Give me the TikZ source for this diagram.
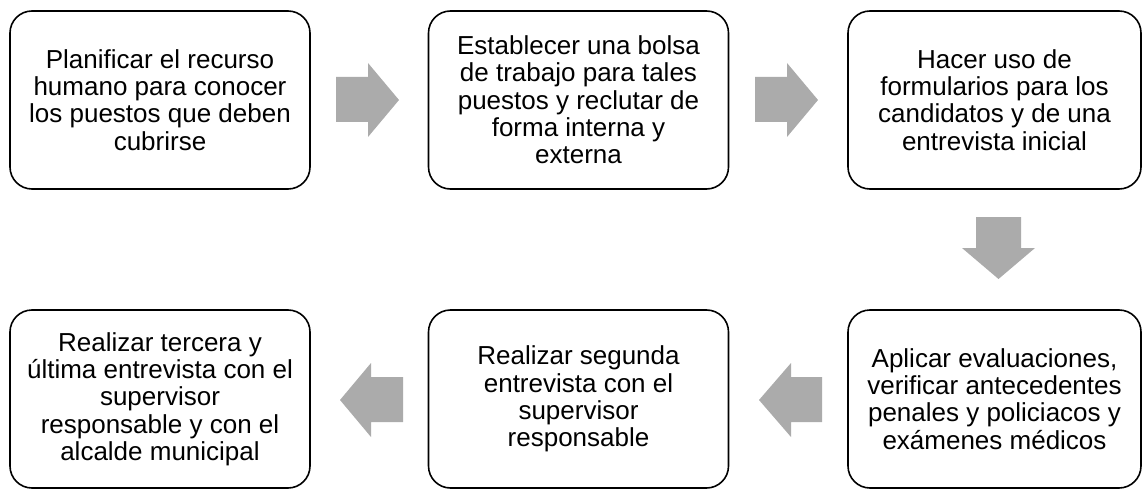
\documentclass[tikz,border=0pt]{standalone}
\usepackage{fontspec}
\setmainfont{Liberation Sans}
\definecolor{arrowgray}{HTML}{ABABAB}
\begin{document}
\begin{tikzpicture}[x=1pt,y=-1pt,
  stepbox/.style={draw=black, line width=1.6pt, rounded corners=22pt, align=center,
    font=\fontsize{26}{27.3}\selectfont, inner sep=0pt, minimum height=178pt},
  wide/.style={minimum width=300pt},
  narrow/.style={minimum width=293pt},
  blockarrow/.style={fill=arrowgray, draw=none}]
\useasboundingbox (0,0) rectangle (1142,489);
% boxes
\node[stepbox, wide] (b1) at (160,100) {Planificar el recurso\\humano para conocer\\los puestos que deben\\cubrirse};
\node[stepbox, wide] (b2) at (578.5,100) {Establecer una bolsa\\de trabajo para tales\\puestos y reclutar de\\forma interna y\\externa};
\node[stepbox, narrow] (b3) at (994.5,100) {Hacer uso de\\formularios para los\\candidatos y de una\\entrevista inicial};
\node[stepbox, narrow] (b6) at (994.5,399) {Aplicar evaluaciones,\\verificar antecedentes\\penales y policiacos y\\exámenes médicos};
\node[stepbox, wide] (b5) at (578.5,399) {Realizar segunda\\entrevista con el\\supervisor\\responsable};
\node[stepbox, wide] (b4) at (160,399) {Realizar tercera y\\última entrevista con el\\supervisor\\responsable y con el\\alcalde municipal};
% block arrows
\fill[blockarrow] (336,77) -- (368,77) -- (368,63) -- (399,100) -- (368,137) -- (368,122) -- (336,122) -- cycle;
\fill[blockarrow] (755,77) -- (787,77) -- (787,63) -- (818,100) -- (787,137) -- (787,122) -- (755,122) -- cycle;
\fill[blockarrow] (976,217) -- (1021,217) -- (1021,248) -- (1035,248) -- (998.5,279) -- (962,248) -- (976,248) -- cycle;
\fill[blockarrow] (822,377) -- (791,377) -- (791,363) -- (759,400) -- (791,437) -- (791,422) -- (822,422) -- cycle;
\fill[blockarrow] (403,377) -- (371,377) -- (371,363) -- (340,400) -- (371,437) -- (371,422) -- (403,422) -- cycle;
\end{tikzpicture}
\end{document}
